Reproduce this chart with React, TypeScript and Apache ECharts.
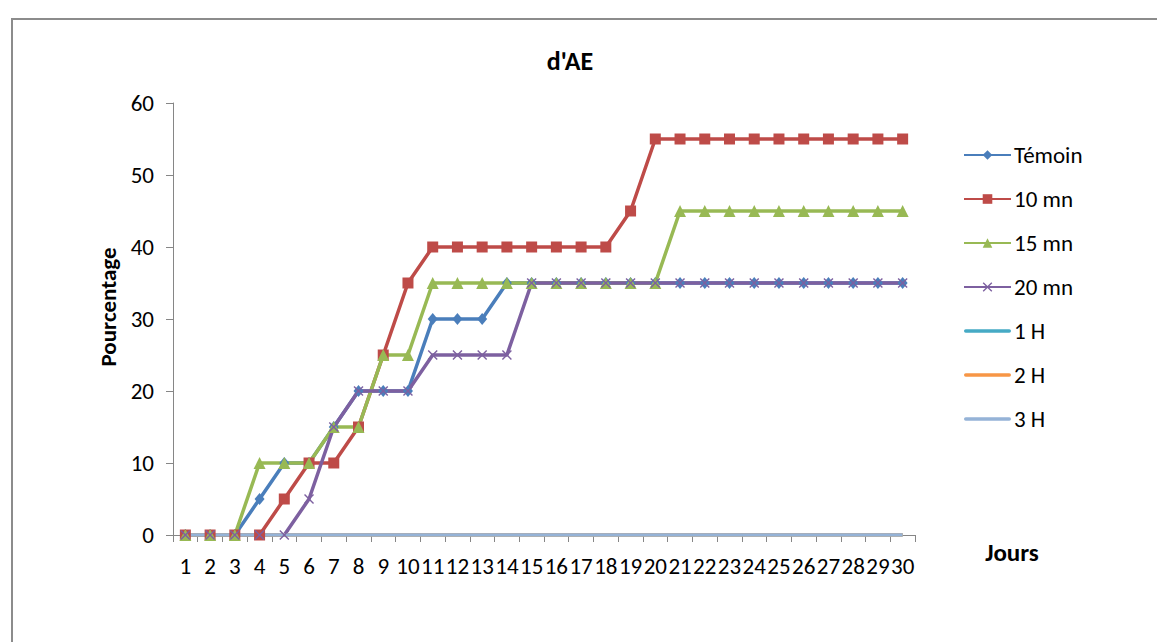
import React, { useEffect, useRef } from "react";
import * as echarts from "echarts";

const days = Array.from({ length: 30 }, (_, i) => String(i + 1));

const temoin = [0, 0, 0, 5, 10, 10, 15, 20, 20, 20, 30, 30, 30, 35, 35, 35, 35, 35, 35, 35, 35, 35, 35, 35, 35, 35, 35, 35, 35, 35];
const mn10 = [0, 0, 0, 0, 5, 10, 10, 15, 25, 35, 40, 40, 40, 40, 40, 40, 40, 40, 45, 55, 55, 55, 55, 55, 55, 55, 55, 55, 55, 55];
const mn15 = [0, 0, 0, 10, 10, 10, 15, 15, 25, 25, 35, 35, 35, 35, 35, 35, 35, 35, 35, 35, 45, 45, 45, 45, 45, 45, 45, 45, 45, 45];
const mn20 = [0, 0, 0, 0, 0, 5, 15, 20, 20, 20, 25, 25, 25, 25, 35, 35, 35, 35, 35, 35, 35, 35, 35, 35, 35, 35, 35, 35, 35, 35];
const h1 = [0, 0, 0, 0, 0, 0, 0, 0, 0, 0, 0, 0, 0, 0, 0, 0, 0, 0, 0, 0, 0, 0, 0, 0, 0, 0, 0, 0, 0, 0];
const h2 = [0, 0, 0, 0, 0, 0, 0, 0, 0, 0, 0, 0, 0, 0, 0, 0, 0, 0, 0, 0, 0, 0, 0, 0, 0, 0, 0, 0, 0, 0];
const h3 = [0, 0, 0, 0, 0, 0, 0, 0, 0, 0, 0, 0, 0, 0, 0, 0, 0, 0, 0, 0, 0, 0, 0, 0, 0, 0, 0, 0, 0, 0];

const seriesNames = ["Témoin", "10 mn", "15 mn", "20 mn", "1 H", "2 H", "3 H"];
const yTicks = [0, 10, 20, 30, 40, 50, 60];

const FONT = "Carlito, 'Liberation Sans', Arial, sans-serif";
const X_SYMBOL = "path://M0,1L1,0L5,4L9,0L10,1L6,5L10,9L9,10L5,6L1,10L0,9L4,5Z";
const LINE_ICON = "path://M1.5,0L45.5,0A1.5,1.5,0,0,1,45.5,3.5L1.5,3.5A1.5,1.5,0,0,1,1.5,0Z";

export default function App() {
  const ref = useRef<HTMLDivElement>(null);

  useEffect(() => {
    if (!ref.current) return;
    const chart = echarts.init(ref.current, null, { renderer: "svg" });
    const mk = (
      name: string,
      data: number[],
      color: string,
      symbol: string,
      symbolSize: number | number[]
    ) => ({
      name,
      type: "line",
      data,
      color,
      symbol,
      symbolSize,
      showSymbol: symbol !== "none",
      lineStyle: { width: 3.5, color },
      itemStyle: { color, borderWidth: 0 },
      emphasis: { disabled: true },
    });

    chart.setOption({
      animation: false,
      backgroundColor: "#ffffff",
      textStyle: { fontFamily: FONT },
      title: {
        text: "d'AE",
        left: 565,
        top: 43,
        textAlign: "center",
        textStyle: { fontFamily: FONT, fontSize: 26, fontWeight: "bold", color: "#000" },
      },
      grid: { left: 173, right: 242, top: 103, bottom: 107, containLabel: false },
      legend: {
        orient: "vertical",
        left: 963,
        top: 143,
        padding: 0,
        itemWidth: 47,
        itemHeight: 12,
        itemGap: 20,
        data: seriesNames.map((n, i) => (i >= 4 ? { name: n, icon: LINE_ICON } : { name: n })),
        textStyle: { fontFamily: FONT, fontSize: 23, color: "#000", lineHeight: 24, padding: [0, 0, 0, -2] },
      },
      xAxis: {
        type: "category",
        data: days,
        boundaryGap: true,
        axisLine: { lineStyle: { color: "#868686", width: 1 } },
        axisTick: { show: true, length: 7, alignWithLabel: false, lineStyle: { color: "#868686" } },
        axisLabel: { interval: 0, fontFamily: FONT, fontSize: 23, color: "#000", margin: 19 },
        splitLine: { show: false },
      },
      yAxis: {
        type: "value",
        min: yTicks[0],
        max: yTicks[yTicks.length - 1],
        interval: 10,
        axisLine: { show: true, lineStyle: { color: "#868686", width: 1 } },
        axisTick: { show: true, length: 7, lineStyle: { color: "#868686" } },
        axisLabel: { fontFamily: FONT, fontSize: 23, color: "#000", margin: 19 },
        splitLine: { show: false },
      },
      graphic: [
        {
          type: "rect",
          shape: { x: 12, y: 19, width: 1200, height: 700 },
          style: { fill: "none", stroke: "#8c8c8c", lineWidth: 2 },
          silent: true,
        },
        {
          type: "text",
          x: 108,
          y: 307,
          rotation: Math.PI / 2,
          style: {
            text: "Pourcentage",
            fontFamily: FONT,
            fontSize: 23,
            fontWeight: "bold",
            fill: "#000",
            align: "center",
            verticalAlign: "middle",
          },
        },
        {
          type: "text",
          x: 1012,
          y: 552,
          style: {
            text: "Jours",
            fontFamily: FONT,
            fontSize: 25,
            fontWeight: "bold",
            fill: "#000",
            align: "center",
            verticalAlign: "middle",
          },
        },
      ],
      series: [
        mk(seriesNames[0], temoin, "#4A7EBB", "diamond", [10, 12]),
        mk(seriesNames[1], mn10, "#BE4B48", "rect", 11),
        mk(seriesNames[2], mn15, "#98B954", "triangle", 12),
        mk(seriesNames[3], mn20, "#7D60A0", X_SYMBOL, 10),
        mk(seriesNames[4], h1, "#46AAC5", "none", 0),
        mk(seriesNames[5], h2, "#F79646", "none", 0),
        mk(seriesNames[6], h3, "#95B3D7", "none", 0),
      ],
    });
    return () => chart.dispose();
  }, []);

  return (
    <div
      ref={ref}
      style={{ position: "fixed", left: 0, top: 0, width: 1157, height: 642, background: "#fff" }}
    />
  );
}
